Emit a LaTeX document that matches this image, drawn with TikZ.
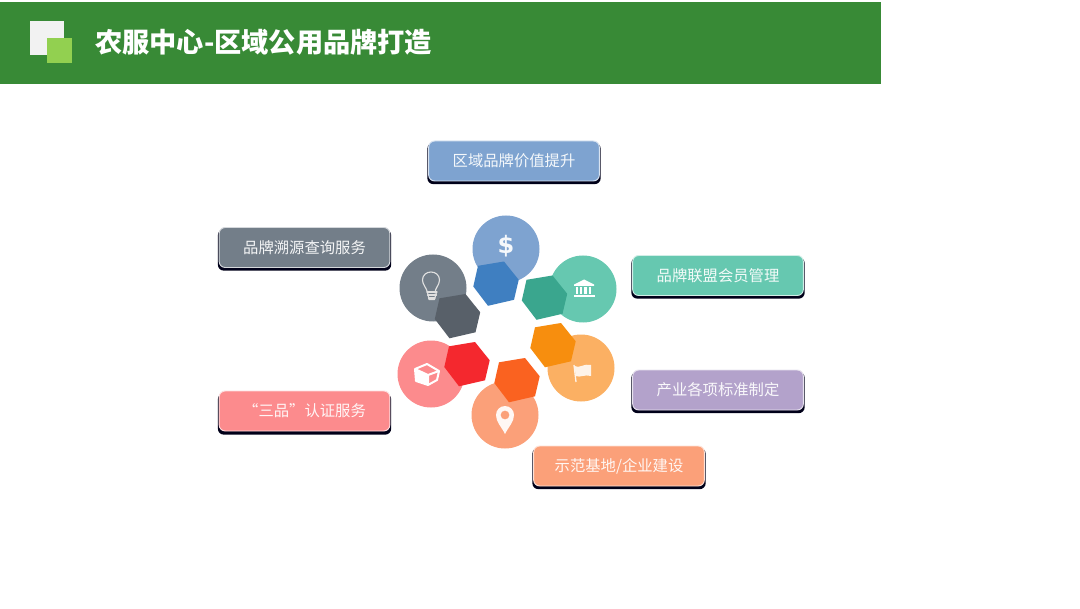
\documentclass[tikz,border=0pt]{standalone}
\usepackage{fontspec}
\setmainfont{Noto Sans CJK SC}
\newfontfamily\symfont{DejaVu Sans}
\definecolor{barG}{HTML}{388A36}
\definecolor{sqW}{HTML}{F2F2F2}
\definecolor{sqG}{HTML}{92D050}
\definecolor{cBlue}{HTML}{7EA3D0}\definecolor{hBlue}{HTML}{3F7FC1}
\definecolor{cTeal}{HTML}{66C8B0}\definecolor{hTeal}{HTML}{3AA68E}
\definecolor{cOrange}{HTML}{FBB063}\definecolor{hOrange}{HTML}{F78E0E}
\definecolor{cSalmon}{HTML}{FBA079}\definecolor{hSalmon}{HTML}{FA6220}
\definecolor{cPink}{HTML}{FC8B8D}\definecolor{hPink}{HTML}{F4282E}
\definecolor{cGray}{HTML}{737E89}\definecolor{hGray}{HTML}{586069}
\definecolor{bPurple}{HTML}{B3A2CB}
\newcommand{\hexat}[3]{\fill[#3] (#1+8,#2-22) -- (#1+22.7,#2-3.7) -- (#1+18,#2+16.3) -- (#1-8,#2+22.3) -- (#1-22.7,#2+3) -- (#1-18,#2-17.7) -- cycle;}
\tikzset{
  disc/.style={circle,fill=#1,minimum size=50.25pt,inner sep=0pt},
  btn/.style={rectangle,rounded corners=4.5pt,fill=#1,draw=white!70!#1,line width=0.7pt,
    minimum width=128pt,minimum height=30pt,inner sep=0pt,text=white!92!#1,font=\fontsize{11.5pt}{14pt}\selectfont},
  shade/.style={rectangle,rounded corners=4.5pt,fill=black!90!blue,minimum width=130pt,minimum height=31pt,inner sep=0pt},
  icon/.style={draw=white!88!black,line width=0.85pt,line join=round,line cap=round},
}
\begin{document}
\begin{tikzpicture}[x=0.75pt,y=-0.75pt]
\useasboundingbox (0,0) rectangle (1080,609);
\fill[white] (0,0) rectangle (1080,609);
% title bar
\fill[barG] (0,2) rectangle (881,84);
\fill[sqW] (30,21) rectangle (64,55);
\fill[sqG] (47,38) rectangle (72,63);
\node[anchor=west,text=white,inner sep=0pt,font=\fontsize{20.4pt}{24pt}\selectfont\bfseries] (title) at (95,42.5) {农服中心-区域公用品牌打造};
% buttons
\node[shade] (s1) at (514,163.5) {};
\node[btn=cBlue] (b1) at (514,161) {\raisebox{0.75pt}{区域品牌价值提升}};
\node[shade] (s2) at (304.5,250) {};
\node[btn=cGray] (b2) at (304.5,247.5) {\raisebox{0.75pt}{品牌溯源查询服务}};
\node[shade] (s3) at (718,278) {};
\node[btn=cTeal] (b3) at (718,275.5) {\raisebox{0.75pt}{品牌联盟会员管理}};
\node[shade] (s4) at (718,392.5) {};
\node[btn=bPurple] (b4) at (718,390) {\raisebox{0.75pt}{产业各项标准制定}};
\node[shade] (s5) at (304.5,414) {};
\node[btn=cPink] (b5) at (304.5,411) {\raisebox{0.75pt}{“三品”认证服务}};
\node[shade] (s6) at (619,468.5) {};
\node[btn=cSalmon] (b6) at (619,466) {\raisebox{0.75pt}{示范基地/企业建设}};
% discs
\node[disc=cBlue] (d1) at (506,249) {};
\node[disc=cTeal] (d2) at (583,289) {};
\node[disc=cOrange] (d3) at (581,368) {};
\node[disc=cSalmon] (d4) at (505,415) {};
\node[disc=cPink] (d5) at (431,374) {};
\node[disc=cGray] (d6) at (433,288) {};
% hexagons
\hexat{496}{283.5}{hBlue}
\hexat{544.5}{297.5}{hTeal}
\hexat{553}{345}{hOrange}
\hexat{517}{380}{hSalmon}
\hexat{467}{364}{hPink}
\hexat{457.5}{316}{hGray}
% dollar
\node[text=white!92!cBlue,inner sep=0pt,font=\symfont\bfseries\fontsize{18pt}{20pt}\selectfont] (i1) at (506,246) {\$};
% bank
\begin{scope}[shift={(584,289)}]
  \fill[white] (-10,-4.5) -- (0,-9.5) -- (10,-4.5) -- (10,-3) -- (-10,-3) -- cycle;
  \fill[white] (-8.5,-2) rectangle (-6,5);
  \fill[white] (-4.2,-2) rectangle (-1.7,5);
  \fill[white] (0.2,-2) rectangle (2.7,5);
  \fill[white] (4.8,-2) rectangle (7.3,5);
  \fill[white] (-10.5,6) rectangle (10.5,8.5);
\end{scope}
% flag
\begin{scope}[shift={(582,373)}]
  \draw[white!85!cOrange,line width=1pt] (-8,-8) -- (-6,9);
  \fill[white!85!cOrange] (-7.5,-7) .. controls (-3,-4) and (2,-10) .. (9,-8) -- (9,3) .. controls (3,1) and (-2,5) .. (-6.2,3) -- cycle;
\end{scope}
% pin
\begin{scope}[shift={(505,420)}]
  \fill[white!92!cSalmon,even odd rule] (0,14) .. controls (-4,6) and (-9,2) .. (-9,-5) .. controls (-9,-10) and (-5,-14) .. (0,-14) .. controls (5,-14) and (9,-10) .. (9,-5) .. controls (9,2) and (4,6) .. (0,14) -- cycle
    (4.5,-5) arc[start angle=0,end angle=360,radius=4.5];
\end{scope}
% cube
\begin{scope}[shift={(428,374)}]
  \fill[white] (-13,-5) -- (0,1) -- (0,11) -- (-12,7) -- cycle;
  \draw[white,line width=1.5pt,line join=round] (-13,-5) -- (-1,-10) -- (11,-3) -- (9,6) -- (0,11) -- (-12,7) -- cycle;
  \draw[white,line width=1.5pt,line join=round] (-13,-5) -- (0,1) -- (11,-3) (0,1) -- (0,11);
\end{scope}
% bulb
\begin{scope}[shift={(431,286)}]
  \draw[icon] (-3.5,7) .. controls (-4,2) and (-8.5,-1) .. (-8.5,-6) .. controls (-8.5,-11) and (-4.5,-14) .. (0,-14) .. controls (4.5,-14) and (8.5,-11) .. (8.5,-6) .. controls (8.5,-1) and (4,2) .. (4,7);
  \draw[icon] (-4,6) -- (6,6) (-3.5,9) -- (5.5,9) (-2.5,12) -- (4,12);
  \draw[icon] (-3.5,6) -- (-2,13.5) -- (3.5,13.5) -- (5.5,6);
\end{scope}
\end{tikzpicture}
\end{document}
